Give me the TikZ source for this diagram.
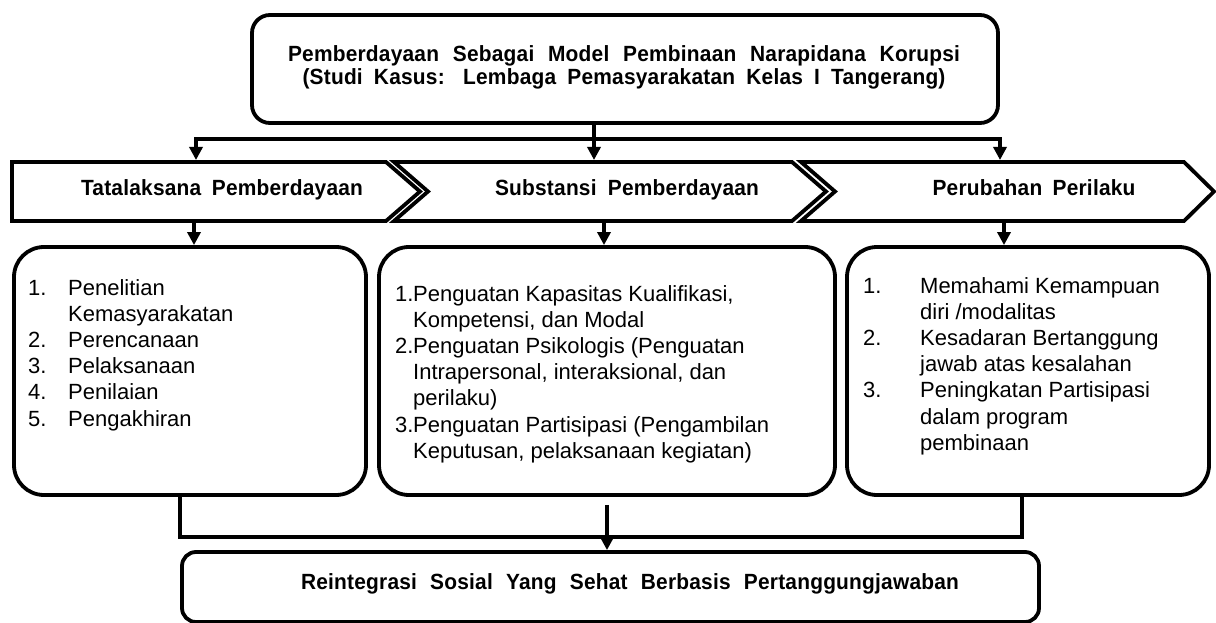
\documentclass[tikz,border=0pt]{standalone}
\usepackage{fontspec}
\setmainfont{Liberation Sans}
\newfontfamily\ttlfont[LetterSpace=1,FakeStretch=0.95]{Liberation Sans}
\usetikzlibrary{arrows.meta}
\newcommand\numbox[2]{\makebox[#1][l]{#2}}
\begin{document}
\begin{tikzpicture}[x=1pt,y=-1pt,
  boxst/.style={draw, line width=3.8pt, inner sep=0pt},
  chev/.style={draw, line width=3.8pt, line join=miter},
  arr/.style={line width=3.5pt, -{Triangle[length=13pt,width=13pt]}},
  arrboth/.style={line width=3.5pt, {Triangle[length=13pt,width=13pt]}-{Triangle[length=13pt,width=13pt]}},
  con/.style={line width=3.5pt},
  body/.style={font=\fontsize{22}{26.2}\selectfont, inner sep=0pt, anchor=base west},
  ttl/.style={font=\ttlfont\bfseries\fontsize{22}{24}\selectfont, inner sep=0pt, anchor=base}]
\useasboundingbox (0,0) rectangle (1216,623);
\begin{scope}
\clip (0,0) rectangle (1216,623);
\fill[white] (0,0) rectangle (1216,623);

% top box
\node[boxst, rounded corners=18pt, minimum width=746pt, minimum height=108pt] (top) at (625,69) {};
\node[ttl] (t1) at (624,62) {\makebox[672pt][s]{Pemberdayaan Sebagai Model Pembinaan Narapidana Korupsi}};
\node[ttl] (t2) at (624,85) {\makebox[643pt][s]{(Studi Kasus: Lembaga Pemasyarakatan Kelas I Tangerang)}};

% chevrons
\draw[chev] (12,162) -- (386,162) -- (420,191.5) -- (386,221) -- (12,221) -- cycle;
\draw[chev] (394,162) -- (792,162) -- (826,191.5) -- (792,221) -- (394,221) -- (428,191.5) -- cycle;
\draw[chev] (801,162) -- (1184,162) -- (1214,191.5) -- (1184,221) -- (801,221) -- (835,191.5) -- cycle;
\node[ttl] (h1) at (222,196) {\makebox[282pt][s]{Tatalaksana Pemberdayaan}};
\node[ttl] (h2) at (627,196) {\makebox[264pt][s]{Substansi Pemberdayaan}};
\node[ttl] (h3) at (1034,196) {\makebox[203pt][s]{Perubahan Perilaku}};

% top connectors
\coordinate (hub) at (594,139);
\coordinate (c1n) at (196,160);
\coordinate (c2n) at (594,160);
\coordinate (c3n) at (1000,160);
\draw[arr] (top.south -| c2n) -- (c2n);
\draw[arrboth] (c1n) |- (hub) -| (c3n);

% lower boxes
\node[boxst, rounded corners=30pt, minimum width=352pt, minimum height=248pt] (lb) at (190,371) {};
\node[boxst, rounded corners=30pt, minimum width=456pt, minimum height=248pt] (mb) at (607,371) {};
\node[boxst, rounded corners=30pt, minimum width=362pt, minimum height=248pt] (rb) at (1028,371) {};

\coordinate (c1s) at (194,223);
\coordinate (c2s) at (604,223);
\coordinate (c3s) at (1004,223);
\draw[arr] (c1s) -- (c1s |- lb.north);
\draw[arr] (c2s) -- (c2s |- mb.north);
\draw[arr] (c3s) -- (c3s |- rb.north);

% box texts
\node[body] (lt) at (28,295) {\begin{tabular}[t]{@{}l@{}l@{}}
\numbox{40pt}{1.}&Penelitian\\
&Kemasyarakatan\\
\numbox{40pt}{2.}&Perencanaan\\
\numbox{40pt}{3.}&Pelaksanaan\\
\numbox{40pt}{4.}&Penilaian\\
\numbox{40pt}{5.}&Pengakhiran
\end{tabular}};

\node[body] (mt) at (395,301) {\begin{tabular}[t]{@{}l@{}l@{}}
\numbox{18pt}{1.}&Penguatan Kapasitas Kualifikasi,\\
&Kompetensi, dan Modal\\
\numbox{18pt}{2.}&Penguatan Psikologis (Penguatan\\
&Intrapersonal, interaksional, dan\\
&perilaku)\\
\numbox{18pt}{3.}&Penguatan Partisipasi (Pengambilan\\
&Keputusan, pelaksanaan kegiatan)
\end{tabular}};

\node[body] (rt) at (863,293) {\begin{tabular}[t]{@{}l@{}l@{}}
\numbox{57pt}{1.}&Memahami Kemampuan\\
&diri /modalitas\\
\numbox{57pt}{2.}&Kesadaran Bertanggung\\
&jawab atas kesalahan\\
\numbox{57pt}{3.}&Peningkatan Partisipasi\\
&dalam program\\
&pembinaan
\end{tabular}};

% bottom box
\node[boxst, rounded corners=14pt, minimum width=857pt, minimum height=70pt] (bb) at (610.5,587) {};
\node[ttl] (bt) at (630,589) {\makebox[658pt][s]{Reintegrasi Sosial Yang Sehat Berbasis Pertanggungjawaban}};

% bottom connectors
\coordinate (j) at (607,537);
\coordinate (ms) at ([yshift=-8pt]mb.south);
\draw[con] ([xshift=-10pt]lb.south) |- (j) -| ([xshift=-6pt]rb.south);
\draw[arr] (ms) -- (ms |- bb.north);
\end{scope}
\end{tikzpicture}
\end{document}
